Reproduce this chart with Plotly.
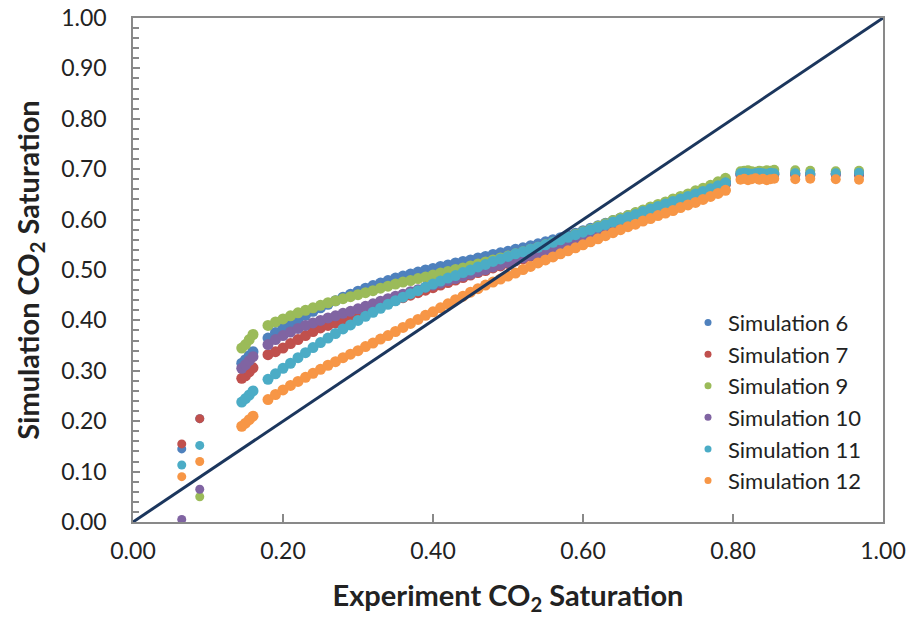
import plotly.graph_objects as go

# ---------------- data ----------------
x_low = [0.065, 0.089]
x_early = [0.145, 0.150, 0.155, 0.160]
x_main = [0.18, 0.19, 0.20, 0.21, 0.22, 0.23, 0.24, 0.25, 0.26, 0.27, 0.28, 0.29,
          0.30, 0.31, 0.32, 0.33, 0.34, 0.35, 0.36, 0.37, 0.38, 0.39, 0.40, 0.41,
          0.42, 0.43, 0.44, 0.45, 0.46, 0.47, 0.48, 0.49, 0.50, 0.51, 0.52, 0.53,
          0.54, 0.55, 0.56, 0.57, 0.58, 0.59, 0.60, 0.61, 0.62, 0.63, 0.64, 0.65,
          0.66, 0.67, 0.68, 0.69, 0.70, 0.71, 0.72, 0.73, 0.74, 0.75, 0.76, 0.77,
          0.78, 0.79]
x_tail = [0.810, 0.815, 0.820, 0.825, 0.830, 0.835, 0.840, 0.845, 0.850, 0.855,
          0.883, 0.903, 0.937, 0.968]

names = ["Simulation 6", "Simulation 7", "Simulation 9", "Simulation 10",
         "Simulation 11", "Simulation 12"]
colors = ["#4F81BD", "#C0504D", "#9BBB59", "#8064A2", "#4BACC6", "#F79646"]

sim6_low = [0.145, 0.205]
sim6_early = [0.315, 0.322, 0.330, 0.338]
sim6_main = [0.365, 0.376, 0.385, 0.394, 0.402, 0.410, 0.418, 0.425, 0.432, 0.439,
             0.446, 0.452, 0.458, 0.464, 0.469, 0.474, 0.479, 0.484, 0.488, 0.492,
             0.496, 0.500, 0.503, 0.507, 0.510, 0.514, 0.517, 0.520, 0.524, 0.527,
             0.531, 0.534, 0.537, 0.541, 0.544, 0.548, 0.552, 0.556, 0.560, 0.564,
             0.569, 0.573, 0.578, 0.583, 0.588, 0.593, 0.598, 0.603, 0.608, 0.613,
             0.618, 0.623, 0.628, 0.633, 0.638, 0.643, 0.648, 0.653, 0.658, 0.663,
             0.669, 0.675]
sim6_tail = [0.692, 0.693, 0.691, 0.692, 0.690, 0.692, 0.693, 0.691, 0.692, 0.693,
             0.692, 0.691, 0.692, 0.692]

sim7_low = [0.155, 0.205]
sim7_early = [0.285, 0.290, 0.298, 0.306]
sim7_main = [0.332, 0.338, 0.345, 0.354, 0.362, 0.370, 0.378, 0.385, 0.390, 0.395,
             0.400, 0.405, 0.410, 0.416, 0.422, 0.428, 0.434, 0.440, 0.445, 0.450,
             0.455, 0.460, 0.465, 0.470, 0.475, 0.480, 0.485, 0.490, 0.495, 0.499,
             0.504, 0.508, 0.513, 0.518, 0.522, 0.527, 0.532, 0.537, 0.543, 0.548,
             0.554, 0.559, 0.565, 0.571, 0.576, 0.582, 0.587, 0.593, 0.598, 0.604,
             0.609, 0.615, 0.620, 0.625, 0.631, 0.636, 0.641, 0.646, 0.652, 0.658,
             0.664, 0.670]
sim7_tail = [0.688, 0.689, 0.687, 0.688, 0.689, 0.688, 0.687, 0.689, 0.688, 0.689,
             0.688, 0.688, 0.689, 0.688]

sim9_low = [None, 0.050]
sim9_early = [0.345, 0.352, 0.362, 0.372]
sim9_main = [0.390, 0.397, 0.403, 0.409, 0.415, 0.420, 0.425, 0.430, 0.435, 0.439,
             0.443, 0.447, 0.451, 0.455, 0.459, 0.464, 0.468, 0.472, 0.476, 0.479,
             0.483, 0.486, 0.490, 0.494, 0.497, 0.501, 0.504, 0.508, 0.512, 0.516,
             0.520, 0.524, 0.528, 0.532, 0.536, 0.541, 0.545, 0.550, 0.555, 0.560,
             0.565, 0.571, 0.576, 0.581, 0.587, 0.592, 0.598, 0.603, 0.608, 0.614,
             0.619, 0.625, 0.630, 0.635, 0.641, 0.646, 0.651, 0.657, 0.662, 0.668,
             0.675, 0.682]
sim9_tail = [0.696, 0.697, 0.698, 0.696, 0.695, 0.697, 0.696, 0.698, 0.697, 0.699,
             0.698, 0.697, 0.696, 0.697]

sim10_low = [0.005, 0.065]
sim10_early = [0.305, 0.312, 0.320, 0.328]
sim10_main = [0.352, 0.362, 0.370, 0.377, 0.384, 0.390, 0.395, 0.400, 0.405, 0.409,
              0.414, 0.418, 0.423, 0.428, 0.433, 0.438, 0.443, 0.448, 0.452, 0.457,
              0.461, 0.466, 0.470, 0.474, 0.479, 0.483, 0.488, 0.492, 0.497, 0.501,
              0.506, 0.510, 0.515, 0.519, 0.524, 0.529, 0.534, 0.539, 0.544, 0.549,
              0.555, 0.560, 0.566, 0.572, 0.577, 0.583, 0.588, 0.594, 0.599, 0.605,
              0.610, 0.616, 0.621, 0.626, 0.632, 0.637, 0.642, 0.647, 0.653, 0.659,
              0.665, 0.672]
sim10_tail = [0.690, 0.691, 0.690, 0.689, 0.691, 0.690, 0.689, 0.690, 0.691, 0.690,
              0.690, 0.690, 0.690, 0.691]

sim11_low = [0.113, 0.152]
sim11_early = [0.238, 0.245, 0.252, 0.260]
sim11_main = [0.283, 0.294, 0.305, 0.315, 0.326, 0.336, 0.346, 0.356, 0.365, 0.374,
              0.383, 0.391, 0.400, 0.408, 0.416, 0.424, 0.432, 0.439, 0.446, 0.453,
              0.459, 0.466, 0.472, 0.478, 0.484, 0.489, 0.495, 0.500, 0.506, 0.511,
              0.517, 0.522, 0.527, 0.532, 0.536, 0.541, 0.545, 0.550, 0.555, 0.560,
              0.565, 0.570, 0.575, 0.580, 0.585, 0.590, 0.595, 0.600, 0.605, 0.610,
              0.616, 0.621, 0.626, 0.631, 0.636, 0.641, 0.646, 0.651, 0.656, 0.661,
              0.667, 0.673]
sim11_tail = [0.692, 0.693, 0.692, 0.691, 0.692, 0.693, 0.692, 0.691, 0.693, 0.692,
              0.692, 0.691, 0.692, 0.693]

sim12_low = [0.090, 0.120]
sim12_early = [0.190, 0.196, 0.203, 0.210]
sim12_main = [0.243, 0.253, 0.262, 0.271, 0.279, 0.287, 0.295, 0.303, 0.311, 0.318,
              0.326, 0.333, 0.340, 0.348, 0.355, 0.363, 0.370, 0.378, 0.386, 0.394,
              0.402, 0.410, 0.417, 0.425, 0.433, 0.441, 0.448, 0.456, 0.463, 0.470,
              0.476, 0.482, 0.488, 0.494, 0.501, 0.507, 0.514, 0.520, 0.526, 0.532,
              0.538, 0.544, 0.550, 0.556, 0.562, 0.568, 0.574, 0.580, 0.586, 0.591,
              0.597, 0.602, 0.608, 0.613, 0.618, 0.624, 0.629, 0.634, 0.640, 0.646,
              0.652, 0.658]
sim12_tail = [0.679, 0.681, 0.678, 0.680, 0.682, 0.679, 0.681, 0.678, 0.680, 0.681,
              0.680, 0.681, 0.680, 0.679]

series_y = [
    sim6_low + sim6_early + sim6_main + sim6_tail,
    sim7_low + sim7_early + sim7_main + sim7_tail,
    sim9_low + sim9_early + sim9_main + sim9_tail,
    sim10_low + sim10_early + sim10_main + sim10_tail,
    sim11_low + sim11_early + sim11_main + sim11_tail,
    sim12_low + sim12_early + sim12_main + sim12_tail,
]
x_all = x_low + x_early + x_main + x_tail

line_x = [0.0, 1.0]
line_y = [0.0, 1.0]

x_ticks = [0.0, 0.2, 0.4, 0.6, 0.8, 1.0]
y_ticks = [0.0, 0.1, 0.2, 0.3, 0.4, 0.5, 0.6, 0.7, 0.8, 0.9, 1.0]

# ---------------- figure ----------------
FONT = "Lato"
AXIS_GRAY = "#898989"
TXT = "#222222"

# marker sizes: isolated points smaller, dense bands a bit larger
sizes = [9] * len(x_low) + [11] * (len(x_early) + len(x_main)) + [10] * len(x_tail)

fig = go.Figure()
for name, col, ys in zip(names, colors, series_y):
    fig.add_trace(go.Scatter(
        x=x_all, y=ys, mode="markers", name=name, showlegend=False,
        marker=dict(color=col, size=sizes, opacity=1, line=dict(width=0)),
    ))
# legend-only entries with small markers
for name, col in zip(names, colors):
    fig.add_trace(go.Scatter(
        x=[None], y=[None], mode="markers", name=name,
        marker=dict(color=col, size=7, opacity=1, line=dict(width=0)),
    ))
fig.add_trace(go.Scatter(
    x=line_x, y=line_y, mode="lines", showlegend=False,
    line=dict(color="#1B365D", width=3),
))

fig.update_layout(
    width=916, height=617,
    margin=dict(l=133, r=33, t=18, b=95),
    paper_bgcolor="white", plot_bgcolor="white",
    font=dict(family=FONT, color=TXT),
    legend=dict(
        x=0.740, y=0.437, xanchor="left", yanchor="top",
        font=dict(family=FONT, size=22, color=TXT),
        bgcolor="rgba(0,0,0,0)", itemwidth=30, tracegroupgap=0,
    ),
    xaxis=dict(
        range=[0, 1], tickvals=x_ticks, tickformat=".2f", automargin=False,
        ticks="inside", ticklen=8, tickcolor=AXIS_GRAY, tickwidth=1.5,
        showline=True, linecolor=AXIS_GRAY, linewidth=1.5, mirror=True,
        showgrid=False, zeroline=False,
        tickfont=dict(family=FONT, size=23, color=TXT),
        ticklabelstandoff=8,
        title=dict(text="<b>Experiment CO<sub>2</sub> Saturation</b>",
                   font=dict(family=FONT, size=29, color=TXT), standoff=22),
    ),
    yaxis=dict(
        range=[0, 1], tickvals=y_ticks, tickformat=".2f", automargin=False,
        ticks="inside", ticklen=7, tickcolor=AXIS_GRAY, tickwidth=1.5,
        minor=dict(dtick=0.02, ticks="inside", ticklen=6, tickcolor=AXIS_GRAY,
                   tickwidth=1.5, showgrid=False),
        showline=True, linecolor=AXIS_GRAY, linewidth=1.5, mirror=True,
        showgrid=False, zeroline=False,
        tickfont=dict(family=FONT, size=23, color=TXT),
        ticklabelstandoff=20,
        title=dict(text="<b>Simulation CO<sub>2</sub> Saturation</b>",
                   font=dict(family=FONT, size=29, color=TXT), standoff=13),
    ),
)

fig.write_html("out.html")
